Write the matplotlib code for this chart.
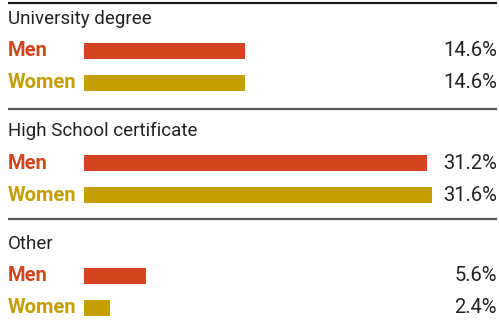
import matplotlib.pyplot as plt

# education level shares by sex
groups = ["University degree", "High School certificate", "Other"]
men = [14.6, 31.2, 5.6]
women = [14.6, 31.6, 2.4]
series_labels = ["Men", "Women"]

MEN_COLOR = "#d4441f"
WOMEN_COLOR = "#c49f00"
TEXT_COLOR = "#222222"

plt.rcParams["font.family"] = ["Roboto", "DejaVu Sans"]

W, H = 499, 325
fig = plt.figure(figsize=(W / 100, H / 100), dpi=100)
ax = fig.add_axes([0, 0, 1, 1])

# x in percent units, bars start 84 px from the left edge, 11 px per percent
px_per_pct = 11.0
x0 = 84.0
ax.set_xlim(-x0 / px_per_pct, (W - x0) / px_per_pct)
ax.set_ylim(H, 0)
ax.axis("off")

section_h = 112.3
bar_h = 16
right = (497 - x0) / px_per_pct
left = (8 - x0) / px_per_pct

for i, (g, m, w) in enumerate(zip(groups, men, women)):
    top = i * section_h
    ax.text(left, top + 19, g, fontsize=13.5, color=TEXT_COLOR, va="center", ha="left")
    for j, (val, col, lab) in enumerate(zip([m, w], [MEN_COLOR, WOMEN_COLOR], series_labels)):
        yc = top + 51 + j * 32
        ax.barh(yc, val, height=bar_h, left=0, color=col)
        ax.text(left, yc, lab, fontsize=14.5, fontweight="bold", color=col, va="center", ha="left")
        ax.text(right, yc, f"{val}%", fontsize=14.5, color=TEXT_COLOR, va="center", ha="right")

# rules above and between the sections
ax.plot([left, right], [2.5, 2.5], color="#1a1a1a", lw=1.6, solid_capstyle="butt")
for y in [108.5, 218.5]:
    ax.plot([left, right], [y, y], color="#555555", lw=1.6, solid_capstyle="butt")

fig.savefig("out.png", dpi=100)
